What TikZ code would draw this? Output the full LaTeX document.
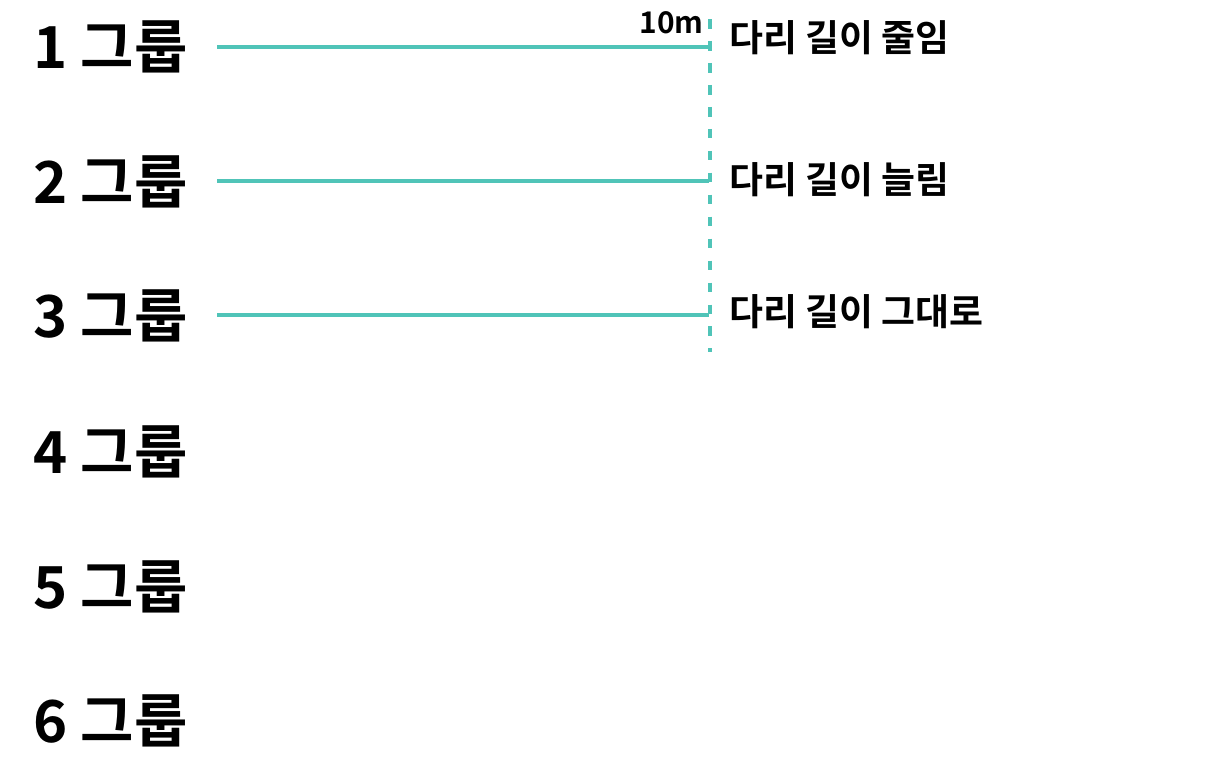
\documentclass[tikz,border=0pt]{standalone}
\usepackage{fontspec}
\usepackage{xcolor}
\usepackage{tikz}
\newfontfamily\krfont{Noto Sans CJK KR}[BoldFont={* Bold}]
\definecolor{primary}{RGB}{0, 0, 0}
\definecolor{accent}{RGB}{80, 196, 184}
\tikzset{
  grp/.style={anchor=west,inner sep=0pt,font=\krfont\bfseries\fontsize{33}{33}\selectfont},
  lbl/.style={anchor=west,inner sep=0pt,font=\krfont\bfseries\fontsize{21}{21}\selectfont},
  track/.style={accent,line width=2pt},
}

\begin{document}
\begin{tikzpicture}[x=0.02cm,y=-0.02cm]
\useasboundingbox (0,0) rectangle (1210,774);
\node[grp] (g1) at (33,47) {1 그룹};
\node[grp] (g2) at (33,182) {2 그룹};
\node[grp] (g3) at (33,316) {3 그룹};
\node[grp] (g4) at (33,452) {4 그룹};
\node[grp] (g5) at (33,587) {5 그룹};
\node[grp] (g6) at (33,721) {6 그룹};
\coordinate (s1) at (217,47);
\coordinate (s2) at (217,181);
\coordinate (s3) at (217,315);
\coordinate (e1) at (709,47);
\coordinate (e2) at (709,181);
\coordinate (e3) at (709,315);
\coordinate (top) at (710,19);
\coordinate (bot) at (710,352);
\draw[track] (s1) -- (e1);
\draw[track] (s2) -- (e2);
\draw[track] (s3) -- (e3);
\draw[accent,line width=2pt,dash pattern=on 5.5pt off 7pt] (top) -- (bot);
\node[anchor=south east,inner sep=0pt,font=\krfont\bfseries\fontsize{17}{17}\selectfont] (len) at (704,34) {10m};
\node[lbl] (r1) at (729,38) {다리 길이 줄임};
\node[lbl] (r2) at (729,180) {다리 길이 늘림};
\node[lbl] (r3) at (729,312) {다리 길이 그대로};
\end{tikzpicture}
\end{document}
